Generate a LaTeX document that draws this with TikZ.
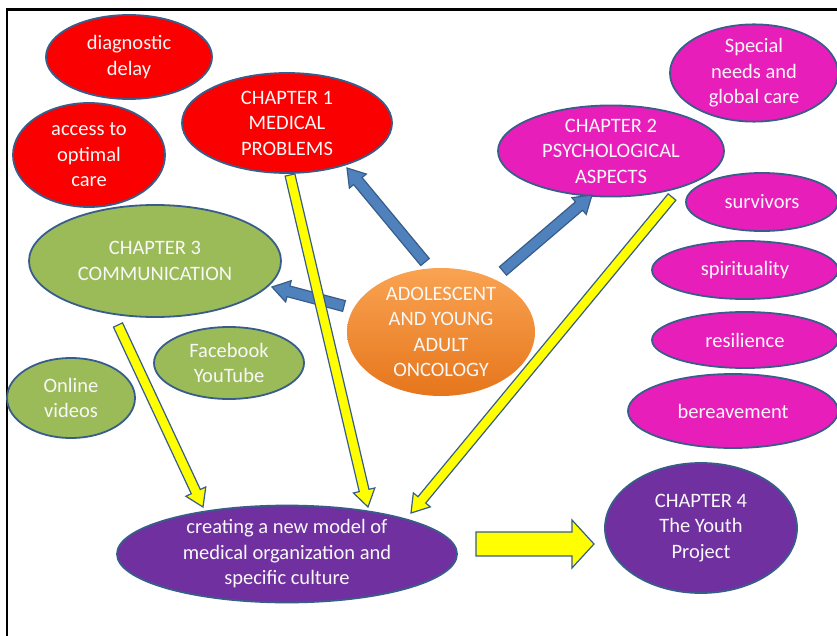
\documentclass[tikz,border=0pt]{standalone}
\usepackage{fontspec}
\setmainfont{Carlito}
\usetikzlibrary{shapes.geometric,calc}
\definecolor{outl}{RGB}{56,93,138}
\definecolor{myred}{RGB}{250,0,0}
\definecolor{mymag}{RGB}{232,30,186}
\definecolor{mygreen}{RGB}{155,187,89}
\definecolor{mypurple}{RGB}{112,48,160}
\definecolor{myblue}{RGB}{79,129,189}
\definecolor{myyellow}{RGB}{255,255,0}
\definecolor{orTop}{RGB}{249,163,82}
\definecolor{orBot}{RGB}{230,118,28}
\definecolor{txt}{RGB}{248,248,248}
\newcommand\blkarrow[6]{%
  \coordinate (ba-n) at ($(#3)!#6!(#2)$);
  \draw[#1] ($(#2)!#4!90:(#3)$) -- ($(ba-n)!#4!90:(#3)$) -- ($(ba-n)!#5!90:(#3)$)
    -- (#3) -- ($(ba-n)!#5!-90:(#3)$) -- ($(ba-n)!#4!-90:(#3)$) -- ($(#2)!#4!-90:(#3)$) -- cycle;}
\begin{document}
\begin{tikzpicture}[x=1pt,y=-1pt,
  bub/.style n args={3}{ellipse, draw=outl, line width=1.8pt, fill=#1, inner sep=0pt,
     minimum width=#2, minimum height=#3, text=txt, align=center,
     font=\fontsize{20.5}{25.5}\selectfont},
  bluearr/.style={fill=myblue, draw=outl, line width=1.2pt, line join=miter},
  yelarr/.style={fill=myyellow, draw=outl, line width=1.2pt, line join=miter}]
\useasboundingbox (0,0) rectangle (837,636);
\fill[white] (0,0) rectangle (837,636);
\draw[line width=2.5pt] (7,637) -- (7,9.5) -- (838,9.5);

% red
\node[bub={myred}{166pt}{84pt}] (diag) at (129,57) {diagnostic\\delay};
\node[bub={myred}{152pt}{104pt}] (access) at (89,155) {access to\\optimal\\care};
\node[bub={myred}{210pt}{100pt}] (ch1) at (287,123) {CHAPTER 1\\MEDICAL\\PROBLEMS};
% green
\node[bub={mygreen}{252pt}{112pt}] (ch3) at (155,261) {CHAPTER 3\\COMMUNICATION};
\node[bub={mygreen}{150pt}{72pt}] (fb) at (229,363) {Facebook\\YouTube};
\node[bub={mygreen}{128pt}{80pt}] (online) at (71,398) {Online\\videos};
% magenta
\node[bub={mymag}{226pt}{86pt}] (ch2) at (611,151) {CHAPTER 2\\PSYCHOLOGICAL\\ASPECTS};
\node[bub={mymag}{168pt}{86pt}] (special) at (754,73) {Special\\needs and\\global care};
\node[bub={mymag}{152pt}{58pt}] (surv) at (762,202) {survivors};
\node[bub={mymag}{186pt}{58pt}] (spirit) at (745,270) {spirituality};
\node[bub={mymag}{186pt}{56pt}] (resil) at (745,340) {resilience};
\node[bub={mymag}{210pt}{74pt}] (bereave) at (733,411) {bereavement};
% purple
\node[bub={mypurple}{340pt}{86pt}] (create) at (287,554) {creating a new model of\\medical organization and\\specific culture};
\node[bub={mypurple}{192pt}{130pt}] (ch4) at (701,528) {CHAPTER 4\\The Youth\\Project};
% centre
\node[ellipse, draw=none, top color=orTop, bottom color=orBot, minimum width=188pt, minimum height=128pt,
  inner sep=0pt, text=txt, align=center, font=\fontsize{20.5}{25.5}\selectfont] (adol) at (441,332)
  {ADOLESCENT\\AND YOUNG\\ADULT\\ONCOLOGY};

% arrow end points
\coordinate (b1s) at (425,262); \coordinate (b1e) at (347,168);
\coordinate (b2s) at (503,271); \coordinate (b2e) at (592,195);
\coordinate (b3s) at (344,306); \coordinate (b3e) at (272,287);
\coordinate (y1s) at (290,175); \coordinate (y1e) at (368,507);
\coordinate (y2s) at (672,197); \coordinate (y2e) at (411,513);
\coordinate (y3s) at (118,325); \coordinate (y3e) at (203,507);
\coordinate (bigs) at (476,544); \coordinate (bige) at (594,544);

% blue arrows
\blkarrow{bluearr}{b1s}{b1e}{5.5pt}{11pt}{17pt}
\blkarrow{bluearr}{b2s}{b2e}{5.5pt}{11pt}{17pt}
\blkarrow{bluearr}{b3s}{b3e}{5.5pt}{11pt}{17pt}
% yellow arrows
\blkarrow{yelarr}{y1s}{y1e}{5pt}{11pt}{17pt}
\blkarrow{yelarr}{y2s}{y2e}{5pt}{11pt}{17pt}
\blkarrow{yelarr}{y3s}{y3e}{5pt}{11pt}{17pt}
\blkarrow{yelarr}{bigs}{bige}{12pt}{24pt}{22pt}
\end{tikzpicture}
\end{document}
